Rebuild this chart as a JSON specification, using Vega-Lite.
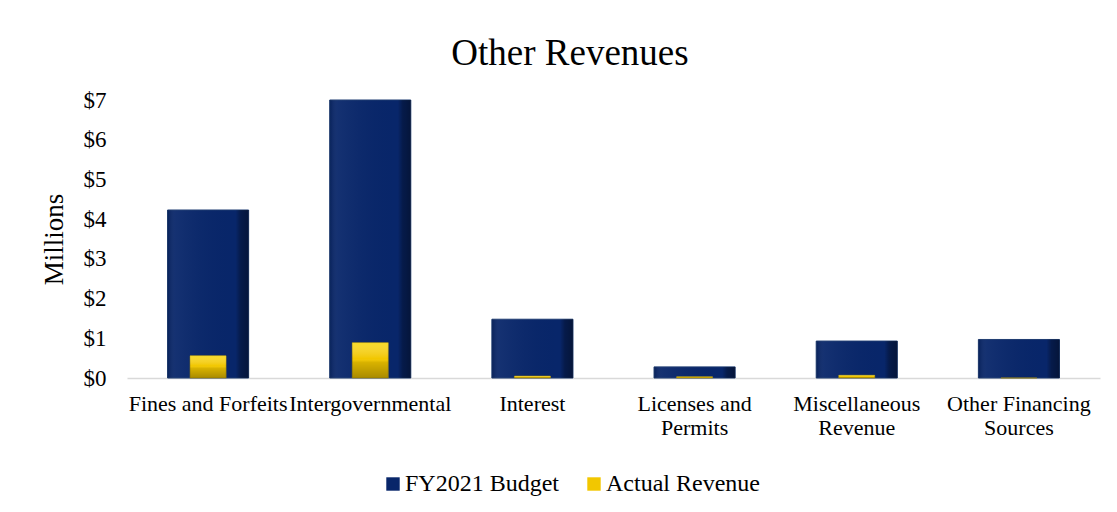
{
  "$schema": "https://vega.github.io/schema/vega-lite/v6.json",
  "autosize": "none",
  "width": 973,
  "height": 278,
  "padding": {"left": 127, "top": 100, "right": 17, "bottom": 134},
  "background": "white",
  "title": {"text": "Other Revenues", "font": "Liberation Serif", "fontSize": 37, "fontWeight": "normal", "color": "#000000", "anchor": "middle", "frame": "bounds", "offset": 16},
  "config": {
    "view": {"stroke": null},
    "font": "Liberation Serif",
    "axisY": {"labelOverlap": false, "labelBound": false, "labelFlush": false}
  },
  "data": {
    "values": [
      {"category": "Fines and Forfeits", "budget": 4.23, "actual": 0.56},
      {"category": "Intergovernmental", "budget": 7.0, "actual": 0.89},
      {"category": "Interest", "budget": 1.48, "actual": 0.05},
      {"category": "Licenses and Permits", "budget": 0.28, "actual": 0.03},
      {"category": "Miscellaneous Revenue", "budget": 0.93, "actual": 0.07},
      {"category": "Other Financing Sources", "budget": 0.97, "actual": 0.0}
    ]
  },
  "encoding": {
    "x": {
      "field": "category", "type": "nominal", "sort": null,
      "scale": {"paddingInner": 0.5, "paddingOuter": 0.25},
      "axis": {
        "title": null, "labelAngle": 0, "labelFontSize": 22, "labelColor": "#000000",
        "labelFont": "Liberation Serif", "labelLimit": 250, "labelPadding": 15, "labelLineHeight": 24,
        "labelOverlap": false, "labelBound": false,
        "ticks": false, "domainColor": "#d9d9d9", "domainWidth": 1.5,
        "labelExpr": "datum.value == 'Licenses and Permits' ? ['Licenses and', 'Permits'] : datum.value == 'Miscellaneous Revenue' ? ['Miscellaneous', 'Revenue'] : datum.value == 'Other Financing Sources' ? ['Other Financing', 'Sources'] : datum.value"
      }
    },
    "y": {
      "type": "quantitative",
      "scale": {"domain": [0, 7], "nice": false},
      "axis": {
        "title": "Millions", "titleFontSize": 27, "titleFontWeight": "normal", "titleColor": "#000000",
        "titleFont": "Liberation Serif", "titlePadding": 15,
        "labelFontSize": 23, "labelColor": "#000000", "labelFont": "Liberation Serif", "labelPadding": 21,
        "labelOverlap": false, "labelBound": false, "labelFlush": false,
        "values": [0, 1, 2, 3, 4, 5, 6, 7], "labelExpr": "'$' + datum.value",
        "domain": false, "ticks": false, "grid": false
      }
    }
  },
  "layer": [
    {
      "mark": {"type": "bar", "stroke": "#1c3a70", "strokeWidth": 1},
      "encoding": {
        "y": {"field": "budget", "type": "quantitative"},
        "color": {
          "datum": "FY2021 Budget",
          "scale": {"domain": ["FY2021 Budget", "Actual Revenue"], "range": ["#08266a", "#f2c700"]},
          "legend": {
            "title": null, "orient": "none", "direction": "horizontal", "legendX": 254, "legendY": 372,
            "symbolType": "square", "symbolSize": 180, "symbolStrokeWidth": 0,
            "labelFontSize": 24, "labelFont": "Liberation Serif", "labelColor": "#000000",
            "columnPadding": 22, "labelOffset": 0, "labelLimit": 300
          }
        }
      }
    },
    {
      "mark": {
        "type": "bar",
        "fill": {"gradient": "linear", "x1": 0, "x2": 1, "y1": 0, "y2": 0, "stops": [
          {"offset": 0, "color": "rgba(0,0,0,0.15)"},
          {"offset": 0.1, "color": "rgba(255,255,255,0.05)"},
          {"offset": 0.84, "color": "rgba(0,0,0,0.0)"},
          {"offset": 0.9, "color": "rgba(0,0,0,0.3)"},
          {"offset": 1, "color": "rgba(0,0,0,0.45)"}
        ]}
      },
      "encoding": {
        "y": {"field": "budget", "type": "quantitative"}
      }
    },
    {
      "mark": {"type": "bar", "size": 36, "stroke": "#b89600", "strokeWidth": 0.5},
      "encoding": {
        "y": {"field": "actual", "type": "quantitative"},
        "color": {"datum": "Actual Revenue"}
      }
    },
    {
      "mark": {
        "type": "bar", "size": 36,
        "fill": {"gradient": "linear", "x1": 0, "x2": 0, "y1": 0, "y2": 1, "stops": [
          {"offset": 0, "color": "rgba(255,240,80,0.5)"},
          {"offset": 0.45, "color": "rgba(255,255,255,0.0)"},
          {"offset": 0.55, "color": "rgba(0,0,0,0.1)"},
          {"offset": 1, "color": "rgba(0,0,0,0.3)"}
        ]}
      },
      "encoding": {
        "y": {"field": "actual", "type": "quantitative"}
      }
    }
  ]
}
